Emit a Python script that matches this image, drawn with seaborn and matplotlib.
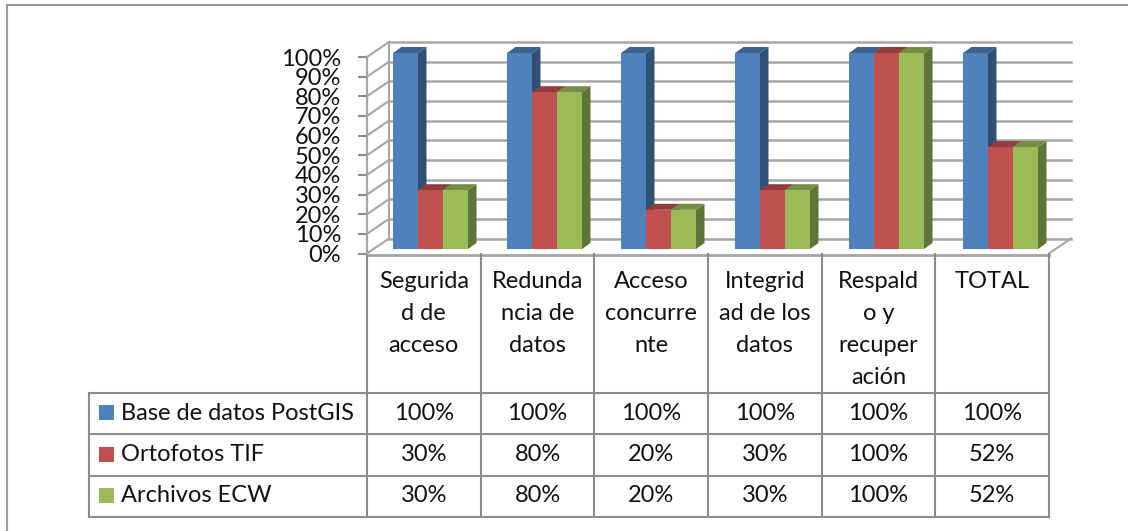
import matplotlib
matplotlib.use("Agg")
import matplotlib.pyplot as plt
from matplotlib.patches import Polygon, Rectangle
from matplotlib.transforms import IdentityTransform
from matplotlib.colors import to_rgb
import pandas as pd
import seaborn as sns

categories = ["Seguridad de acceso", "Redundancia de datos", "Acceso concurrente",
              "Integridad de los datos", "Respaldo y recuperación", "TOTAL"]
category_lines = [["Segurida", "d de", "acceso"], ["Redunda", "ncia de", "datos"],
                  ["Acceso", "concurre", "nte"], ["Integrid", "ad de los", "datos"],
                  ["Respald", "o y", "recuper", "ación"], ["TOTAL"]]
series_names = ["Base de datos PostGIS", "Ortofotos TIF", "Archivos ECW"]
postgis = [100, 100, 100, 100, 100, 100]
ortofotos = [30, 80, 20, 30, 100, 52]
ecw = [30, 80, 20, 30, 100, 52]
series_values = [postgis, ortofotos, ecw]
colors = ["#4F81BD", "#C0504D", "#9BBB59"]
y_ticks = list(range(0, 101, 10))

W, H = 1128, 531
GRID = "#a6a6a6"
LINE = "#8c8c8c"
FONT = "Lato"
plt.rcParams["font.family"] = FONT

df = pd.DataFrame({
    "category": categories * 3,
    "series": [s for s in series_names for _ in categories],
    "value": postgis + ortofotos + ecw,
})

fig = plt.figure(figsize=(W / 100, H / 100), dpi=100, facecolor="white")

def box(x0, y_top, x1, y_bot):
    return [x0 / W, 1 - y_bot / H, (x1 - x0) / W, (y_bot - y_top) / H]

# pixel canvas for frame, walls and table
page = fig.add_axes([0, 0, 1, 1], zorder=0)
page.set_xlim(0, W)
page.set_ylim(H, 0)
page.axis("off")
page.plot([7, 7, W], [H, 4.5, 4.5], color="#9a9a9a", lw=1.5)

# axis at the front of the 3D box
FRONT_L, FRONT_R, FRONT_T, FRONT_B = 367, 1049, 57, 253.5
DX, DY = 22, -15
front = fig.add_axes(box(FRONT_L, FRONT_T, FRONT_R, FRONT_B), zorder=1)
front.patch.set_alpha(0)
front.set_xlim(0, len(categories))
front.set_ylim(0, 100)
front.set_yticks(y_ticks, [f"{t}%" for t in y_ticks])
front.set_xticks([])
front.tick_params(axis="y", length=6.5, width=1.5, color=LINE, labelsize=17, pad=12, labelcolor="#111111")
for s in ["top", "right", "bottom"]:
    front.spines[s].set_visible(False)
front.spines["left"].set_color(GRID)
front.spines["left"].set_linewidth(1.6)

# walls of the 3D box
step = (FRONT_B - FRONT_T) / (len(y_ticks) - 1)
for i in range(len(y_ticks)):
    y = FRONT_B - i * step
    page.plot([FRONT_L, FRONT_L + DX], [y, y + DY], color=GRID, lw=1.5)
    page.plot([FRONT_L + DX, FRONT_R + DX], [y + DY, y + DY], color=GRID, lw=1.8)
page.plot([FRONT_L + DX, FRONT_L + DX], [FRONT_T + DY, FRONT_B + DY], color=GRID, lw=1.5)
page.plot([FRONT_R, FRONT_R + DX], [FRONT_B, FRONT_B + DY], color=GRID, lw=1.5)
page.plot([FRONT_L, FRONT_R], [FRONT_B + 1, FRONT_B + 1], color=GRID, lw=2)

# bars
ax = fig.add_axes(box(373.5, 53, 1057.5, 249), zorder=2)
sns.barplot(data=df, x="category", y="value", hue="series", hue_order=series_names,
            palette=colors, saturation=1, width=0.658, gap=0, ax=ax, legend=False, zorder=3,
            linewidth=0, errorbar=None)
ax.set_xlim(-0.5, len(categories) - 0.5)
ax.set_ylim(0, 100)
ax.axis("off")

def shade(c, f):
    return tuple(v * f for v in to_rgb(c))

BDX, BDY = 8.5, 6
fig.canvas.draw()
bars = sorted(ax.patches, key=lambda p: p.get_x())
for n, p in enumerate(bars):
    if p.get_height() <= 0:
        continue
    c = p.get_facecolor()
    (x0, y0) = ax.transData.transform((p.get_x(), 0))
    (x1, y1) = ax.transData.transform((p.get_x() + p.get_width(), p.get_height()))
    side = [(x1, y0), (x1 + BDX, y0 + BDY), (x1 + BDX, y1 + BDY), (x1, y1)]
    top = [(x0, y1), (x0 + BDX, y1 + BDY), (x1 + BDX, y1 + BDY), (x1, y1)]
    ax.add_patch(Polygon(side, closed=True, transform=IdentityTransform(), fc=shade(c, 0.62), lw=0, zorder=2, clip_on=False))
    ax.add_patch(Polygon(top, closed=True, transform=IdentityTransform(), fc=shade(c, 0.76), lw=0, zorder=2 + n * 0.001, clip_on=False))

# table
col_x = [FRONT_L + i * (FRONT_R - FRONT_L) / len(categories) for i in range(len(categories) + 1)]
row_y = [392.5, 434, 475.5, 516.5]
TABLE_L = 89
for x in col_x:
    page.plot([x, x], [FRONT_B, row_y[-1]], color=LINE, lw=1.5)
page.plot([TABLE_L, TABLE_L], [row_y[0], row_y[-1]], color=LINE, lw=1.5)
for y in row_y:
    page.plot([TABLE_L, col_x[-1]], [y, y], color=LINE, lw=1.5)

TEXT = "#111111"
FS = 17
LINE_H = 32
for i, lines in enumerate(category_lines):
    cx = (col_x[i] + col_x[i + 1]) / 2
    for k, t in enumerate(lines):
        page.text(cx, 281 + k * LINE_H, t, ha="center", va="center", fontsize=FS, color=TEXT)
for r, (name, vals, c) in enumerate(zip(series_names, series_values, colors)):
    cy = (row_y[r] + row_y[r + 1]) / 2
    page.add_patch(Rectangle((99, cy - 8), 15, 15, fc=c, ec="none"))
    page.text(121, cy, name, ha="left", va="center", fontsize=FS, color=TEXT)
    for i, v in enumerate(vals):
        page.text((col_x[i] + col_x[i + 1]) / 2, cy, f"{v}%", ha="center", va="center", fontsize=FS, color=TEXT)

fig.savefig("out.png", dpi=100, facecolor="white")
